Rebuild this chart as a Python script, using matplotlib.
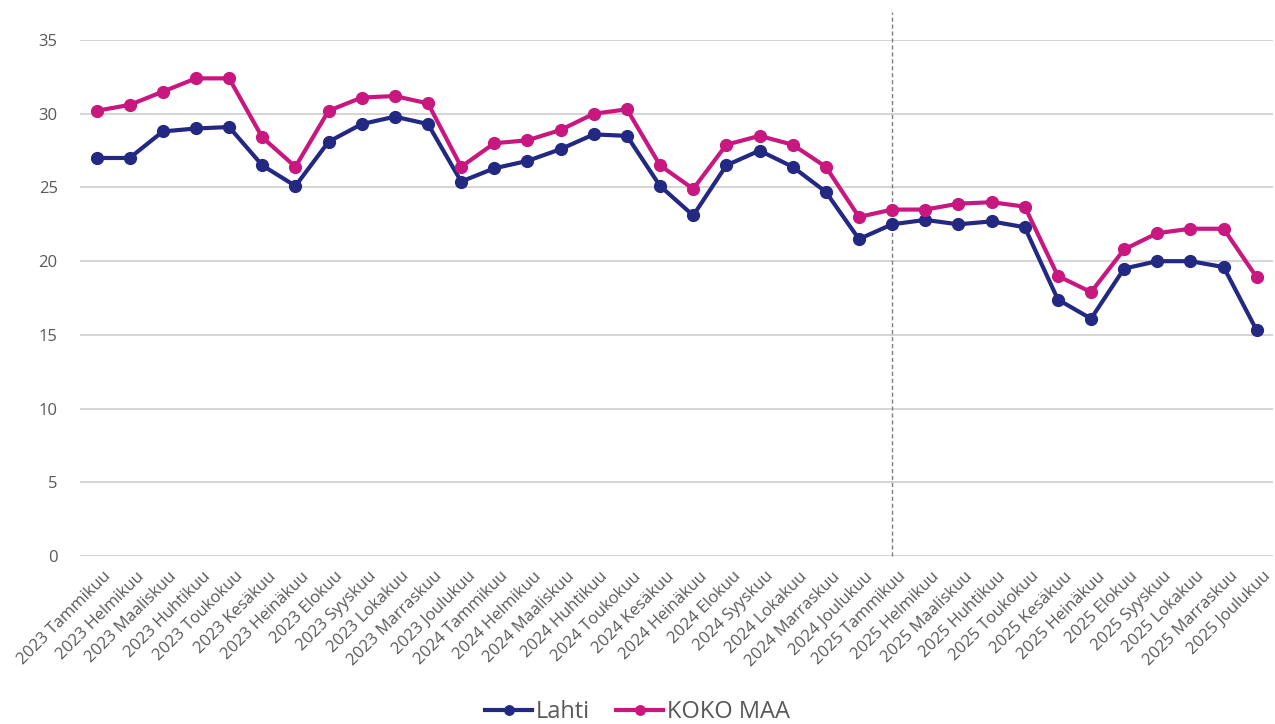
import matplotlib.pyplot as plt
import matplotlib.transforms as mtransforms
import numpy as np

plt.rcParams['font.family'] = ['Open Sans', 'DejaVu Sans']

months = ["Tammikuu", "Helmikuu", "Maaliskuu", "Huhtikuu", "Toukokuu", "Kesäkuu",
          "Heinäkuu", "Elokuu", "Syyskuu", "Lokakuu", "Marraskuu", "Joulukuu"]
years = [2023, 2024, 2025]
labels = [f"{y} {m}" for y in years for m in months]

lahti = [27.0, 27.0, 28.8, 29.0, 29.1, 26.5, 25.1, 28.1, 29.3, 29.8, 29.3, 25.4,
         26.3, 26.8, 27.6, 28.6, 28.5, 25.1, 23.1, 26.5, 27.5, 26.4, 24.7, 21.5,
         22.5, 22.8, 22.5, 22.7, 22.3, 17.4, 16.1, 19.5, 20.0, 20.0, 19.6, 15.3]
koko_maa = [30.2, 30.6, 31.5, 32.4, 32.4, 28.4, 26.4, 30.2, 31.1, 31.2, 30.7, 26.4,
            28.0, 28.2, 28.9, 30.0, 30.3, 26.5, 24.9, 27.9, 28.5, 27.9, 26.4, 23.0,
            23.5, 23.5, 23.9, 24.0, 23.7, 19.0, 17.9, 20.8, 21.9, 22.2, 22.2, 18.9]

navy = '#232883'
magenta = '#C8177F'
grey_txt = '#595959'

fig = plt.figure(figsize=(12.75, 7.24), dpi=100)
ax = fig.add_axes([0.0627, 0.232, 0.936, 0.7127])

x = np.arange(len(labels))
ax.plot(x, lahti, color=navy, lw=3, marker='o', ms=8.5, label='Lahti', zorder=3)
ax.plot(x, koko_maa, color=magenta, lw=3, marker='o', ms=8.5, label='KOKO MAA', zorder=3)

# dashed marker line at start of 2025
ax.axvline(labels.index("2025 Tammikuu"), ymin=0, ymax=1.055, color='#7f7f7f',
           lw=1, ls=(0, (3, 2)), clip_on=False, zorder=2)

ax.set_ylim(0, 35)
ax.set_yticks(range(0, 36, 5))
ax.set_xlim(-0.5, len(labels) - 0.5)
ax.set_xticks(x)
ax.set_xticklabels(labels, rotation=45, ha='right', rotation_mode='anchor')

ax.grid(axis='y', color='#d4d4d4', lw=1.4)
ax.set_axisbelow(True)
for s in ax.spines.values():
    s.set_visible(False)
ax.tick_params(length=0, colors=grey_txt, labelsize=12)
ax.tick_params(axis='y', pad=16)
ax.tick_params(axis='x', pad=9)

# nudge rotated labels a bit to the right
offset = mtransforms.ScaledTranslation(6 / 100, 0, fig.dpi_scale_trans)
for lbl in ax.get_xticklabels():
    lbl.set_transform(lbl.get_transform() + offset)

fig.legend(loc='lower center', bbox_to_anchor=(0.5, -0.03), ncol=2, frameon=False,
           fontsize=17, labelcolor=grey_txt, handlelength=2.0, handletextpad=0.15,
           columnspacing=1.1, markerscale=0.8)

plt.savefig('out.png', dpi=100)
